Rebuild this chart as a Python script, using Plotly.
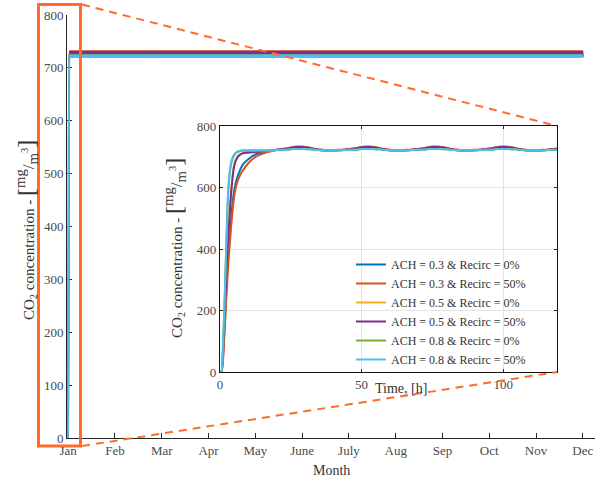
import plotly.graph_objects as go

# ---------------- data ----------------
series_names = [
    "ACH = 0.3 & Recirc = 0%",
    "ACH = 0.3 & Recirc = 50%",
    "ACH = 0.5 & Recirc = 0%",
    "ACH = 0.5 & Recirc = 50%",
    "ACH = 0.8 & Recirc = 0%",
    "ACH = 0.8 & Recirc = 50%",
]
series_colors = ["#0072BD", "#D95319", "#EDB120", "#7E2F8E", "#77AC30", "#4DBEEE"]

# start-up transient (hours)
rise_hours = [0, 0.5, 1, 1.5, 2, 2.5, 3, 4, 5, 6, 7, 8, 10, 12, 14, 16, 18, 20, 22]
rise_ach03_r0 = [0, 0, 40, 130, 220, 310, 390, 510, 590, 630, 655, 674, 692, 705, 712, 716, 719, 722, 724]
rise_ach03_r50 = [0, 0, 30, 110, 200, 285, 360, 480, 570, 615, 638, 655, 679, 696, 706, 713, 718, 723, 726]
rise_ach05_r0 = [0, 0, 55, 155, 265, 375, 455, 595, 672, 697, 707, 712, 715, 716, 717, 719, 720, 722, 724]
rise_ach05_r50 = [0, 0, 50, 150, 260, 370, 450, 590, 670, 696, 706, 711, 714, 715, 716, 719, 721, 723, 725]
rise_ach08_r0 = [0, 0, 70, 190, 340, 490, 600, 680, 705, 715, 719, 720, 720, 720, 720, 720, 721, 722, 723]
rise_ach08_r50 = [0, 0, 80, 200, 350, 500, 610, 685, 708, 716, 719, 720, 720, 720, 720, 720, 721, 722, 723]
rise_values = [rise_ach03_r0, rise_ach03_r50, rise_ach05_r0, rise_ach05_r50, rise_ach08_r0, rise_ach08_r50]

# steady periodic regime: level per series + hourly daily deviation
steady_level = [725, 727, 725, 726, 723, 723]
daily_cycle_low_ach = [1, 3, 5, 6, 6, 6, 5, 4, 2, 0, -2, -3, -4, -5, -5, -5, -5, -5, -4, -4, -3, -2, -1, 0]
daily_cycle_high_ach = [0, 1, 2, 2, 2, 2, 2, 1, 1, 0, -1, -1, -2, -2, -2, -2, -2, -2, -2, -1, -1, -1, 0, 0]
series_cycle = [daily_cycle_low_ach, daily_cycle_low_ach, daily_cycle_low_ach,
                daily_cycle_low_ach, daily_cycle_high_ach, daily_cycle_high_ach]

inset_end_hour = 119
year_end_hour = 8030          # hour of the December tick
hours_per_month = 730

month_labels = ["Jan", "Feb", "Mar", "Apr", "May", "June", "July", "Aug", "Sep", "Oct", "Nov", "Dec"]
main_y_ticks = [0, 100, 200, 300, 400, 500, 600, 700, 800]
inset_x_ticks = [0, 50, 100]
inset_y_ticks = [0, 200, 400, 600, 800]


def build(i, end_hour):
    hrs = list(rise_hours) + list(range(24, end_hour + 1))
    cyc = series_cycle[i]
    vals = list(rise_values[i]) + [steady_level[i] + cyc[h % 24] for h in range(24, end_hour + 1)]
    return hrs, vals


# ---------------- figure ----------------
FONT = "Liberation Serif"
TICKC = "#4a4a4a"
AXC = "#262626"
ORANGE = "#FF6B2C"

W, H = 597, 480
ML, MR, MT, MB = 67, 2, 15, 42
pw, ph = W - ML - MR, H - MT - MB


def px(x):
    return (x - ML) / pw


def py(y):
    return (H - MB - y) / ph


inset_x = [px(220), px(557)]
inset_y = [py(372), py(126)]

fig = go.Figure()

for i in range(6):
    hrs, vals = build(i, year_end_hour)
    fig.add_trace(go.Scatter(
        x=[h / hours_per_month for h in hrs], y=vals, mode="lines",
        line=dict(color=series_colors[i], width=1.6), showlegend=False,
        xaxis="x", yaxis="y", hoverinfo="skip"))

for i in range(6):
    hrs, vals = build(i, inset_end_hour)
    fig.add_trace(go.Scatter(
        x=hrs, y=vals, mode="lines", name=series_names[i],
        line=dict(color=series_colors[i], width=2, shape="spline", smoothing=0.6),
        xaxis="x2", yaxis="y2"))

tickfont = dict(family=FONT, size=13, color=TICKC)
main_xrange = [-0.025, 11.26]

fig.update_layout(
    width=W, height=H,
    margin=dict(l=ML, r=MR, t=MT, b=MB),
    paper_bgcolor="white", plot_bgcolor="rgba(0,0,0,0)",
    font=dict(family=FONT, size=13, color=TICKC),
    xaxis=dict(range=main_xrange, tickvals=list(range(12)), ticktext=month_labels,
               ticks="inside", ticklen=5, tickcolor=AXC, showline=True, linecolor=AXC,
               linewidth=1, showgrid=False, zeroline=False, tickfont=tickfont,
               domain=[0, 1], anchor="y", layer="below traces"),
    yaxis=dict(range=[0, 800], tickvals=main_y_ticks, ticks="inside", ticklen=5,
               tickcolor=AXC, showline=True, linecolor=AXC, linewidth=1,
               showgrid=False, zeroline=False, tickfont=tickfont, domain=[0, 1], anchor="x",
               layer="below traces"),
    xaxis3=dict(range=main_xrange, tickvals=list(range(12)), overlaying="x", side="top",
                anchor="y", ticks="inside", ticklen=5, tickcolor="#444",
                showline=True, linecolor="#8c8c8c", showticklabels=False,
                showgrid=False, zeroline=False),
    yaxis3=dict(range=[0, 800], tickvals=main_y_ticks, overlaying="y", side="right",
                anchor="x", ticks="inside", ticklen=5, tickcolor="#444",
                showline=True, linecolor="#8c8c8c", showticklabels=False,
                showgrid=False, zeroline=False),
    xaxis2=dict(domain=inset_x, anchor="y2", range=[0, inset_end_hour],
                tickvals=inset_x_ticks, ticks="inside", ticklen=3, tickcolor=AXC,
                showline=True, mirror="ticks", linecolor="#111", linewidth=1.2,
                showgrid=True, gridcolor="#e3e3e3", zeroline=False, tickfont=tickfont),
    yaxis2=dict(domain=inset_y, anchor="x2", range=[0, 800],
                tickvals=inset_y_ticks, ticks="inside", ticklen=3, tickcolor=AXC,
                showline=True, mirror="ticks", linecolor="#111", linewidth=1.2,
                showgrid=True, gridcolor="#e3e3e3", zeroline=False, tickfont=tickfont),
    legend=dict(x=px(351), y=py(250), xanchor="left", yanchor="top",
                bgcolor="rgba(0,0,0,0)", borderwidth=0, tracegroupgap=0,
                font=dict(family=FONT, size=12, color="#333")),
    showlegend=True,
)

ylabel = ("CO<sub>2</sub> concentration - <span style='font-size:24px'>[</span>"
          "<span style='font-size:21px'><sup>mg</sup></span>"
          "<span style='font-size:17px'>/</span>"
          "<span style='font-size:21px'><sub>m</sub></span>"
          "<span style='font-size:15px'><sup>3</sup></span>"
          "<span style='font-size:24px'>]</span>")
fig.add_annotation(text=ylabel, xref="paper", yref="paper", x=px(27), y=py(230),
                   textangle=-90, showarrow=False, font=dict(family=FONT, size=15, color="#333"),
                   xanchor="center", yanchor="middle")
fig.add_annotation(text=ylabel, xref="paper", yref="paper", x=px(174), y=py(248),
                   textangle=-90, showarrow=False, font=dict(family=FONT, size=15, color="#333"),
                   xanchor="center", yanchor="middle")
fig.add_annotation(text="Month", xref="paper", yref="paper", x=px(331), y=py(470),
                   showarrow=False, font=dict(family=FONT, size=14, color="#333"),
                   xanchor="center", yanchor="middle")
fig.add_annotation(text="Time, [h]", xref="paper", yref="paper", x=px(401), y=py(388),
                   showarrow=False, font=dict(family=FONT, size=14, color="#333"),
                   xanchor="center", yanchor="middle")

# zoom indicator
fig.add_shape(type="rect", xref="paper", yref="paper",
              x0=px(38.5), x1=px(80.5), y0=py(446), y1=py(4.5),
              line=dict(color=ORANGE, width=3), layer="above")
fig.add_shape(type="line", xref="paper", yref="paper",
              x0=px(82), y0=py(4.5), x1=inset_x[1], y1=inset_y[1],
              line=dict(color=ORANGE, width=2, dash="8px,6px"), layer="above")
fig.add_shape(type="line", xref="paper", yref="paper",
              x0=px(82), y0=py(446), x1=inset_x[1], y1=inset_y[0],
              line=dict(color=ORANGE, width=2, dash="8px,6px"), layer="above")

fig.write_html("out.html")
